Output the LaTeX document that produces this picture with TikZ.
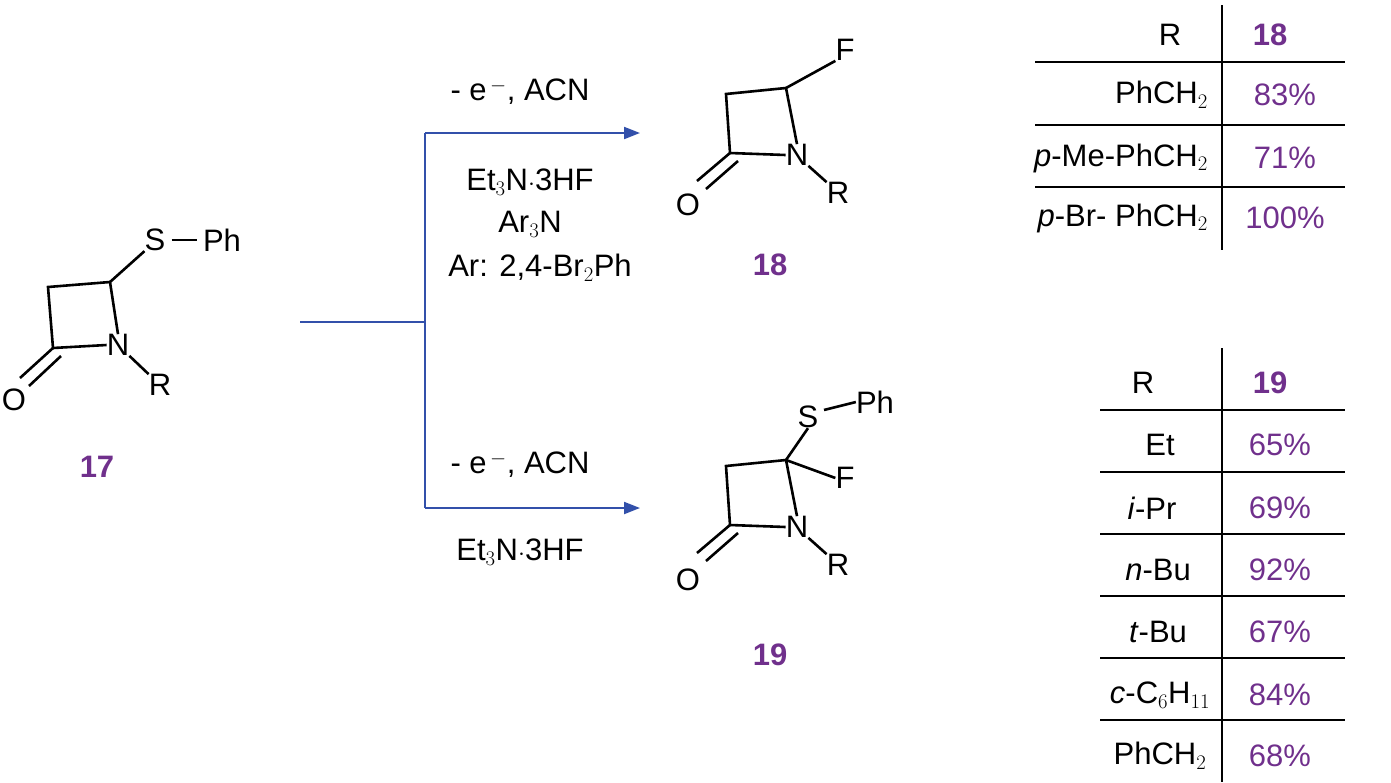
\documentclass[tikz,border=0pt]{standalone}
\usepackage{fontspec}
\setmainfont{Liberation Sans}
\usetikzlibrary{arrows.meta,calc}
\definecolor{pur}{RGB}{112,48,140}
\definecolor{blu}{RGB}{50,80,170}
\begin{document}
\begin{tikzpicture}[x=1pt,y=-1pt,
  every node/.style={font=\fontsize{31}{36}\selectfont, inner sep=0pt},
  bond/.style={line width=2.6pt},
  rx/.style={blu,line width=2pt},
  num/.style={pur,font=\fontsize{31}{36}\selectfont\bfseries},
  pc/.style={pur},
  tl/.style={line width=2pt}]
\useasboundingbox (0,0) rectangle (1391,782);
% ---------- 17
\node (O1) at (14,400) {O};
\node (N1) at (118,345) {N};
\node (R1) at (160,385) {R};
\node (S1) at (155,240) {S};
\node (P1) at (222,240) {Ph};
\coordinate (a1) at (48,287); \coordinate (b1) at (110,282); \coordinate (c1) at (53,348);
\draw[bond] (c1) -- (a1) -- (b1) -- (N1.north);
\draw[bond] (N1.west) -- (c1);
\draw[bond] (c1) -- (20,378); \draw[bond] (61,356) -- (29,386);
\draw[bond] (b1) -- (S1.south west);
\draw[bond] ($(S1.east)+(6,0)$) -- ($(P1.west)+(-6,0)$);
\draw[bond] (N1.south east) -- (R1.north west);
\node[num] (n17) at (97,467) {17};
% ---------- 18
\node (O2) at (688,205) {O};
\node (N2) at (797,155) {N};
\node (R2) at (838,193) {R};
\node (F2) at (845,50) {F};
\coordinate (a2) at (726,94); \coordinate (b2) at (786,88); \coordinate (c2) at (730,153);
\draw[bond] (c2) -- (a2) -- (b2) -- (N2.north);
\draw[bond] (N2.west) -- (c2);
\draw[bond] (c2) -- (697,181); \draw[bond] (738,161) -- (706,189);
\draw[bond] (b2) -- (F2.south west);
\draw[bond] (N2.south east) -- (R2.north west);
\node[num] (n18) at (770,265) {18};
% ---------- 19
\node (O3) at (688,580) {O};
\node (N3) at (797,527) {N};
\node (R3) at (838,565) {R};
\node (F3) at (845,478) {F};
\node (S3) at (808,417) {S};
\node (P3) at (875,402) {Ph};
\coordinate (a3) at (726,466); \coordinate (b3) at (786,460); \coordinate (c3) at (730,525);
\draw[bond] (c3) -- (a3) -- (b3) -- (N3.north);
\draw[bond] (N3.west) -- (c3);
\draw[bond] (c3) -- (697,553); \draw[bond] (738,533) -- (706,561);
\draw[bond] (b3) -- (S3.south);
\draw[bond] (b3) -- (F3.west);
\draw[bond] (824,410) -- (P3.west);
\draw[bond] (N3.south east) -- (R3.north west);
\node[num] (n19) at (770,655) {19};
% ---------- reaction arrows
\coordinate (s) at (300,322); \coordinate (j) at (425,322);
\coordinate (t) at (425,133); \coordinate (u) at (425,508);
\coordinate (te) at (640,133); \coordinate (ue) at (640,508);
\draw[rx] (s) -- (j);
\draw[rx] (t) -- (u);
\draw[rx,-{Triangle[length=16pt,width=12pt]}] (t) -- (te);
\draw[rx,-{Triangle[length=16pt,width=12pt]}] (u) -- (ue);
\node (c1t) at (520,92) {- e$^{\,-}$, ACN};
\node (c2t) at (530,182) {Et$_3$N$\cdot$3HF};
\node (c3t) at (530,224) {Ar$_3$N};
\node (c4t) at (540,268) {Ar: 2,4-Br$_2$Ph};
\node (c5t) at (520,465) {- e$^{\,-}$, ACN};
\node (c6t) at (520,552) {Et$_3$N$\cdot$3HF};
% ---------- table 18
\coordinate (v1a) at (1222,5); \coordinate (v1b) at (1222,250);
\draw[tl] (v1a) -- (v1b);
\foreach \y in {62,125,187} \draw[tl] (1035,\y) -- (1345,\y);
\node (h1) at (1170,35) {R};
\node[num] (h2) at (1270,35) {18};
\node[anchor=east] (r1) at (1208,95) {PhCH$_2$};
\node[anchor=east] (r2) at (1208,158) {\textit{p}-Me-PhCH$_2$};
\node[anchor=east] (r3) at (1208,218) {\textit{p}-Br- PhCH$_2$};
\node[pc] (y1) at (1285,95) {83\%};
\node[pc] (y2) at (1285,158) {71\%};
\node[pc] (y3) at (1285,218) {100\%};
% ---------- table 19
\coordinate (v2a) at (1222,348); \coordinate (v2b) at (1222,782);
\draw[tl] (v2a) -- (v2b);
\foreach \y in {410,472,534,596,658,720} \draw[tl] (1100,\y) -- (1345,\y);
\node (k1) at (1143,383) {R};
\node[num] (k2) at (1270,383) {19};
\node (q1) at (1160,445) {Et};
\node (q2) at (1152,508) {\textit{i}-Pr};
\node (q3) at (1158,570) {\textit{n}-Bu};
\node (q4) at (1158,632) {\textit{t}-Bu};
\node (q5) at (1160,695) {\textit{c}-C$_6$H$_{11}$};
\node (q6) at (1160,756) {PhCH$_2$};
\node[pc] (z1) at (1280,445) {65\%};
\node[pc] (z2) at (1280,508) {69\%};
\node[pc] (z3) at (1280,570) {92\%};
\node[pc] (z4) at (1280,632) {67\%};
\node[pc] (z5) at (1280,695) {84\%};
\node[pc] (z6) at (1280,756) {68\%};
\end{tikzpicture}
\end{document}
